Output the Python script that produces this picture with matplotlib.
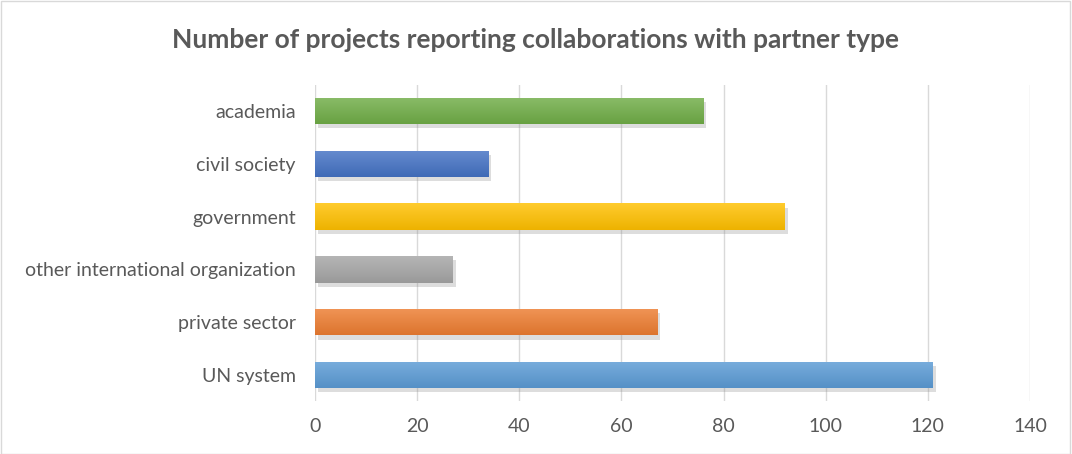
import matplotlib
matplotlib.use("Agg")
import matplotlib.pyplot as plt
import matplotlib.patheffects as pe
from matplotlib.patches import Rectangle
import numpy as np

categories = ["UN system", "private sector", "other international organization",
              "government", "civil society", "academia"]
values = [121, 67, 27, 92, 34, 76]
colors = ["#5B9BD5", "#ED7D31", "#A5A5A5", "#FFC000", "#4472C4", "#70AD47"]
xticks = [0, 20, 40, 60, 80, 100, 120, 140]
title = "Number of projects reporting collaborations with partner type"

plt.rcParams['font.family'] = ['Lato', 'DejaVu Sans']

fig = plt.figure(figsize=(10.72, 4.54), dpi=100)
fig.patches.append(Rectangle((0.001, 0.001), 0.997, 0.997, transform=fig.transFigure,
                             fill=False, edgecolor="#D9D9D9", linewidth=1.0))
ax = fig.add_axes([315/1072, 1-401.4/454, (1030-315)/1072, 316.8/454])

y = np.arange(len(categories))
bars = ax.barh(y, values, height=0.5, color=colors, zorder=3)


def shade(c, f):
    rgb = np.array(matplotlib.colors.to_rgb(c))
    if f > 0:
        return rgb + (1 - rgb) * f
    return rgb * (1 + f)

for b, c in zip(bars, colors):
    b.set_path_effects([pe.SimplePatchShadow(offset=(2, -3), shadow_rgbFace="#8F8F8F", alpha=0.3),
                        pe.Normal()])
    x0, y0 = b.get_x(), b.get_y()
    w, h = b.get_width(), b.get_height()
    top = shade(c, 0.18)
    bot = shade(c, -0.07)
    grad = np.linspace(0, 1, 64)[:, None, None]
    img = bot[None, None, :] * (1 - grad) + top[None, None, :] * grad
    im = ax.imshow(img, extent=[x0, x0 + w, y0 + h, y0], aspect='auto', zorder=4,
                   interpolation='bilinear', origin='upper')
    im.set_clip_path(b)

ax.set_xlim(0, 140)
ax.set_ylim(-0.5, len(categories) - 0.5)
ax.set_xticks(xticks)
ax.set_xticklabels([str(t) for t in xticks])
ax.set_yticks(y)
ax.set_yticklabels(categories)
ax.grid(axis='x', color="#D9D9D9", linewidth=1.0, zorder=0)
for s in ax.spines.values():
    s.set_visible(False)
ax.tick_params(axis='both', length=0, labelsize=14, labelcolor="#595959")
ax.tick_params(axis='x', pad=12)
ax.tick_params(axis='y', pad=14)

fig.text(0.5, 1 - 40/454, title, ha='center', va='center', fontsize=19,
         fontweight='bold', color="#595959")

fig.savefig("out.png", dpi=100)
